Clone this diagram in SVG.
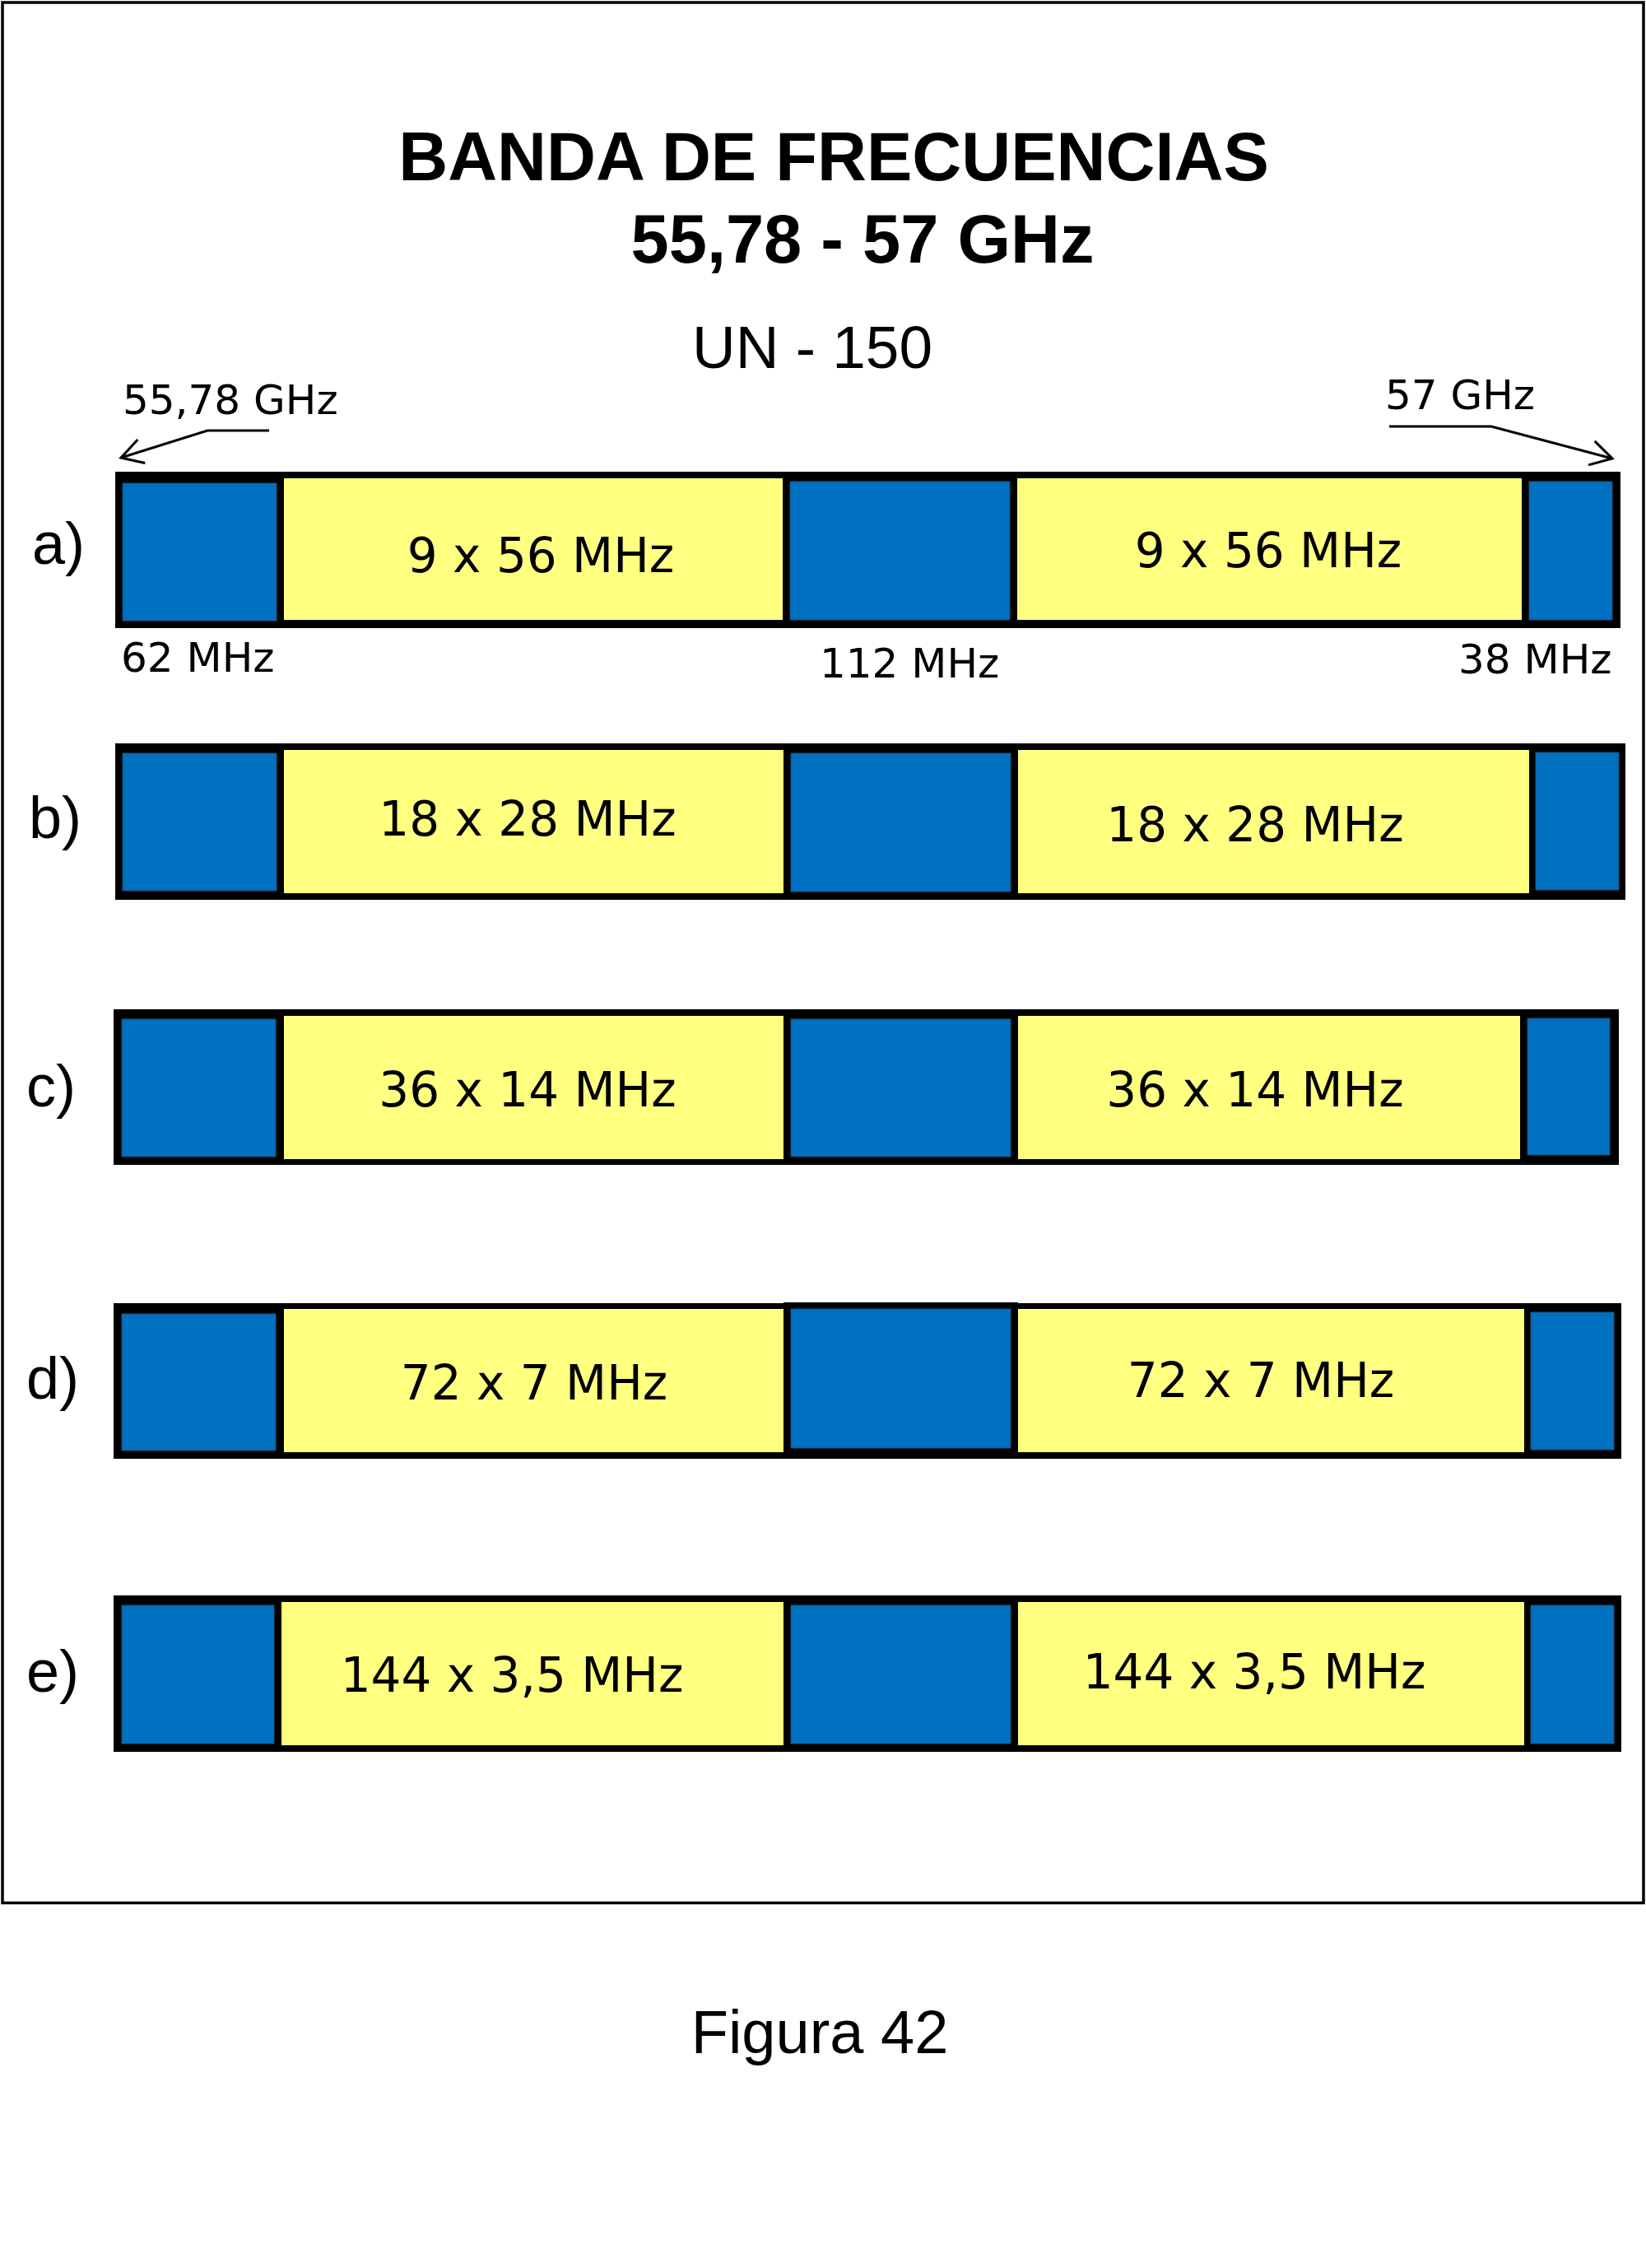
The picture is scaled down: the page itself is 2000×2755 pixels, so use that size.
<svg xmlns="http://www.w3.org/2000/svg" width="2000" height="2755" viewBox="0 0 2000 2755">
<style>
.frame{fill:none;stroke:#000;stroke-width:3.5}
.bk{fill:#000}
.bl{fill:#0070C0;stroke:#1F4E79;stroke-width:1}
.ye{fill:#FFFF80}
.ttl{font-family:"Liberation Sans",Arial,sans-serif;font-weight:bold;font-size:83px;fill:#000;text-anchor:middle}
.sub{font-family:"Liberation Sans",Arial,sans-serif;font-size:73px;fill:#000;text-anchor:middle}
.row{font-family:"Liberation Sans",Arial,sans-serif;font-size:72px;fill:#000}
.lbl{font-family:"DejaVu Sans",Verdana,sans-serif;font-size:58px;fill:#000;text-anchor:middle}
.sm{font-family:"DejaVu Sans",Verdana,sans-serif;font-size:50px;fill:#000}
.arr{fill:none;stroke:#000;stroke-width:3;marker-end:url(#open)}
</style>
<defs>
<marker id="open" markerUnits="userSpaceOnUse" viewBox="-32 -20 40 40" markerWidth="40" markerHeight="40" refX="0" refY="0" orient="auto" overflow="visible">
<path d="M-26,-15 L0,0 L-26,15" fill="none" stroke="#000" stroke-width="3"/>
</marker>
</defs>
<rect class="frame" x="3" y="3" width="1994" height="2308.5"/>
<g id="title">
<text class="ttl" x="1013" y="219">BANDA DE FRECUENCIAS</text>
<text class="ttl" x="1048" y="319">55,78 - 57 GHz</text>
<text class="sub" x="987" y="447">UN - 150</text>
</g>
<g id="edge-labels">
<text class="sm" x="149" y="503">55,78 GHz</text>
<text class="sm" x="1683" y="497">57 GHz</text>
<text class="sm" x="147" y="816">62 MHz</text>
<text class="sm" x="996" y="823">112 MHz</text>
<text class="sm" x="1772" y="818">38 MHz</text>
</g>
<g id="connectors">
<polyline class="arr" points="327,523 252,523 147,556"/>
<polyline class="arr" points="1688,518 1812,518 1959,557"/>
</g>
<g id="bar-a">
<rect class="bk" x="140" y="573" width="1829" height="190"/>
<rect class="bl" x="149" y="587" width="187" height="167"/>
<rect class="ye" x="345" y="581" width="606" height="172"/>
<rect class="bl" x="960" y="585" width="267" height="168"/>
<rect class="ye" x="1236" y="581" width="613" height="172"/>
<rect class="bl" x="1858" y="585" width="101" height="168"/>
<text class="row" x="39" y="685">a)</text>
<text class="lbl" x="657" y="695">9 x 56 MHz</text>
<text class="lbl" x="1541" y="689">9 x 56 MHz</text>
</g>
<g id="bar-b">
<rect class="bk" x="140" y="903" width="1835" height="190"/>
<rect class="bl" x="149" y="915" width="187" height="167"/>
<rect class="ye" x="345" y="911" width="607" height="174"/>
<rect class="bl" x="961" y="915" width="267" height="168"/>
<rect class="ye" x="1237" y="911" width="621" height="174"/>
<rect class="bl" x="1866" y="914" width="101" height="167"/>
<text class="row" x="35" y="1018">b)</text>
<text class="lbl" x="641" y="1015">18 x 28 MHz</text>
<text class="lbl" x="1525" y="1022">18 x 28 MHz</text>
</g>
<g id="bar-c">
<rect class="bk" x="138" y="1226" width="1829" height="189"/>
<rect class="bl" x="148" y="1238" width="187" height="167"/>
<rect class="ye" x="345" y="1234" width="607" height="174"/>
<rect class="bl" x="961" y="1238" width="267" height="167"/>
<rect class="ye" x="1237" y="1234" width="610" height="174"/>
<rect class="bl" x="1856" y="1237" width="100" height="166"/>
<text class="row" x="32" y="1344">c)</text>
<text class="lbl" x="641" y="1344">36 x 14 MHz</text>
<text class="lbl" x="1525" y="1344">36 x 14 MHz</text>
</g>
<g id="bar-d">
<rect class="bk" x="138" y="1583" width="1832" height="189"/>
<rect class="bk" x="952" y="1582" width="285" height="8"/>
<rect class="bl" x="148" y="1596" width="187" height="166"/>
<rect class="ye" x="345" y="1590" width="607" height="174"/>
<rect class="bl" x="961" y="1590" width="267" height="169"/>
<rect class="ye" x="1237" y="1590" width="615" height="174"/>
<rect class="bl" x="1860" y="1594" width="101" height="167"/>
<text class="row" x="32" y="1699">d)</text>
<text class="lbl" x="649" y="1700">72 x 7 MHz</text>
<text class="lbl" x="1532" y="1697">72 x 7 MHz</text>
</g>
<g id="bar-e">
<rect class="bk" x="138" y="1938" width="1832" height="190"/>
<rect class="bl" x="148" y="1950" width="185" height="168"/>
<rect class="ye" x="342" y="1946" width="610" height="174"/>
<rect class="bl" x="961" y="1950" width="267" height="168"/>
<rect class="ye" x="1237" y="1946" width="615" height="174"/>
<rect class="bl" x="1860" y="1950" width="101" height="168"/>
<text class="row" x="32" y="2055">e)</text>
<text class="lbl" x="622" y="2055">144 x 3,5 MHz</text>
<text class="lbl" x="1524" y="2051">144 x 3,5 MHz</text>
</g>
<g id="caption">
<text class="sub" x="996" y="2494" style="font-size:74px">Figura 42</text>
</g>
</svg>
